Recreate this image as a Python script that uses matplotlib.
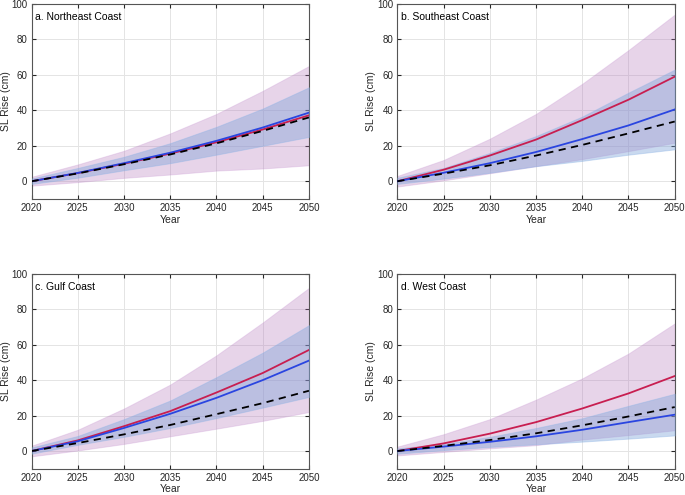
import numpy as np
import matplotlib.pyplot as plt

plt.rcParams['font.family'] = ['Liberation Sans', 'DejaVu Sans']

years = [2020, 2025, 2030, 2035, 2040, 2045, 2050]
titles = ['a. Northeast Coast', 'b. Southeast Coast', 'c. Gulf Coast', 'd. West Coast']

# red scenario (median) and its range (magenta band)
red_ne = [0, 4.6, 9.9, 15.6, 22.0, 29.2, 37.2]
red_se = [0, 6.5, 14.5, 23.5, 34.5, 46.0, 59.0]
red_gc = [0, 6.0, 14.0, 22.5, 33.0, 44.0, 57.0]
red_wc = [0, 4.3, 9.8, 16.3, 24.0, 32.5, 42.3]

mag_hi_ne = [2.5, 9.5, 17.2, 27.0, 38.0, 51.0, 65.0]
mag_lo_ne = [-2.5, -0.5, 1.9, 3.8, 6.0, 7.2, 9.0]
mag_hi_se = [3.0, 12.0, 24.0, 38.0, 55.0, 74.0, 94.0]
mag_lo_se = [-3.0, 0.5, 4.5, 8.5, 12.5, 17.0, 21.7]
mag_hi_gc = [3.0, 12.0, 24.0, 37.5, 54.0, 72.5, 92.0]
mag_lo_gc = [-3.0, 0.3, 4.0, 8.3, 12.6, 17.0, 22.0]
mag_hi_wc = [2.5, 9.5, 18.0, 29.0, 41.0, 55.0, 72.0]
mag_lo_wc = [-2.5, -0.5, 1.5, 3.3, 6.5, 9.0, 11.7]

# blue scenario (median) and its range (blue band)
blue_ne = [0, 4.7, 10.2, 16.1, 22.8, 30.3, 38.7]
blue_se = [0, 4.8, 10.2, 16.5, 23.8, 31.5, 40.5]
blue_gc = [0, 5.5, 13.0, 21.0, 30.0, 40.0, 51.0]
blue_wc = [0, 2.5, 5.2, 8.3, 12.0, 16.3, 20.5]

blu_hi_ne = [1.5, 7.5, 13.8, 21.5, 30.7, 41.0, 53.0]
blu_lo_ne = [-1.5, 2.0, 6.2, 10.2, 15.0, 20.0, 25.0]
blu_hi_se = [2.0, 7.5, 16.0, 25.5, 36.5, 50.0, 63.0]
blu_lo_se = [-1.5, 1.5, 4.8, 8.5, 11.5, 15.0, 18.0]
blu_hi_gc = [2.0, 8.5, 18.0, 28.5, 41.7, 55.5, 71.0]
blu_lo_gc = [-1.5, 3.5, 8.0, 13.0, 18.6, 24.5, 30.5]
blu_hi_wc = [1.5, 4.0, 8.0, 13.0, 18.5, 25.5, 32.3]
blu_lo_wc = [-1.5, 0.5, 2.3, 3.8, 5.3, 7.0, 8.8]

# observed-trend extrapolation (dashed)
obs_ne = [0, 4.4, 9.6, 15.1, 21.4, 28.4, 36.0]
obs_se = [0, 4.3, 9.0, 14.5, 20.5, 27.0, 33.7]
obs_gc = [0, 4.5, 9.4, 14.7, 20.8, 27.0, 34.0]
obs_wc = [0, 2.9, 6.2, 10.0, 14.5, 19.5, 24.8]

panels = [
    (red_ne, mag_hi_ne, mag_lo_ne, blue_ne, blu_hi_ne, blu_lo_ne, obs_ne),
    (red_se, mag_hi_se, mag_lo_se, blue_se, blu_hi_se, blu_lo_se, obs_se),
    (red_gc, mag_hi_gc, mag_lo_gc, blue_gc, blu_hi_gc, blu_lo_gc, obs_gc),
    (red_wc, mag_hi_wc, mag_lo_wc, blue_wc, blu_hi_wc, blu_lo_wc, obs_wc),
]

fig = plt.figure(figsize=(6.85, 4.95), dpi=100)
boxes = [[0.046, 0.598, 0.405, 0.394], [0.580, 0.598, 0.405, 0.394],
         [0.046, 0.053, 0.405, 0.394], [0.580, 0.053, 0.405, 0.394]]

for k in range(4):
    red, mhi, mlo, blue, bhi, blo, obs = panels[k]
    ax = fig.add_axes(boxes[k])
    ax.fill_between(years, mlo, mhi, facecolor=(178/255, 115/255, 185/255), alpha=0.3,
                    edgecolor=(200/255, 150/255, 210/255), linewidth=0.7, zorder=2)
    ax.fill_between(years, blo, bhi, facecolor=(122/255, 160/255, 215/255), alpha=0.4,
                    edgecolor=(140/255, 180/255, 230/255), linewidth=0.7, zorder=3)
    ax.plot(years, red, color='#c81e50', lw=1.3, zorder=5)
    ax.plot(years, blue, color='#2a45e0', lw=1.3, zorder=5)
    ax.plot(years, obs, color='k', lw=1.3, ls=(0, (4, 3)), zorder=6)

    ax.set_xlim(2020, 2050)
    ax.set_ylim(-10, 100)
    ax.set_xticks(np.arange(2020, 2051, 5))
    ax.set_yticks(np.arange(0, 101, 20))
    ax.grid(True, color='#e4e4e4', lw=0.7, zorder=0)
    ax.set_axisbelow(True)
    ax.tick_params(direction='in', length=3, top=True, right=True,
                   labelsize=7, colors='#262626', pad=3)
    for s in ax.spines.values():
        s.set_color('#555555')
        s.set_linewidth(0.8)
    ax.set_xlabel('Year', fontsize=7.5, color='#262626', labelpad=1)
    ax.set_ylabel('SL Rise (cm)', fontsize=7.5, color='#262626')
    ax.yaxis.set_label_coords(-0.075, 0.5)
    ax.text(0.014, 0.96, titles[k], transform=ax.transAxes, fontsize=7.5,
            va='top', ha='left', color='k')

fig.savefig('out.png', dpi=100)
